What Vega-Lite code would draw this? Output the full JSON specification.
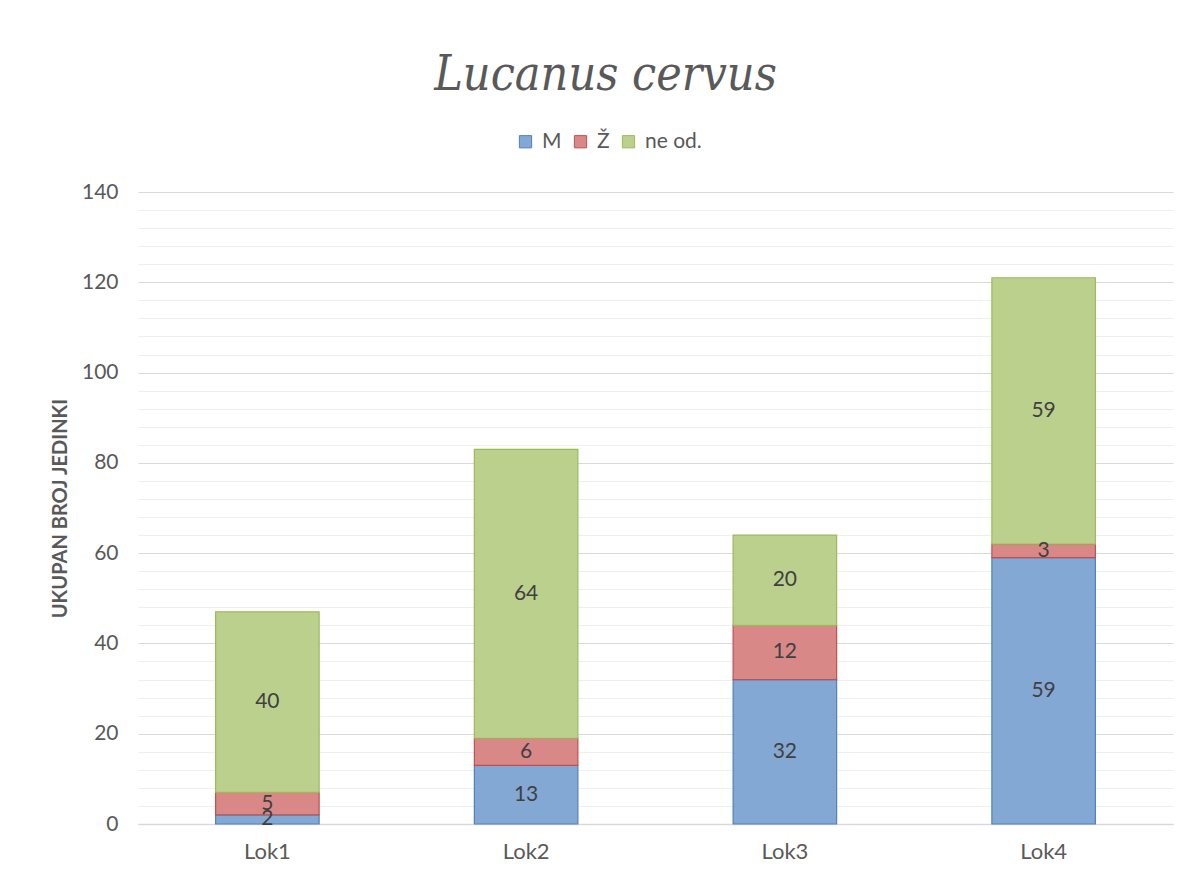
{
  "$schema": "https://vega.github.io/schema/vega-lite/v6.json",
  "width": 1035,
  "height": 632,
  "autosize": {"type": "none"},
  "padding": {"left": 138, "top": 192, "right": 16, "bottom": 55},
  "background": "white",
  "config": {"view": {"stroke": null}, "font": "Lato"},
  "title": {
    "text": "Lucanus cervus",
    "font": "DejaVu Serif Condensed, Liberation Serif",
    "fontStyle": "italic",
    "fontWeight": "normal",
    "fontSize": 48,
    "color": "#595959",
    "anchor": "middle",
    "baseline": "alphabetic",
    "offset": -7,
    "dx": -50
  },
  "data": {
    "values": [
      {"lok": "Lok1", "spol": "M", "ord": 1, "value": 2},
      {"lok": "Lok1", "spol": "Ž", "ord": 2, "value": 5},
      {"lok": "Lok1", "spol": "ne od.", "ord": 3, "value": 40},
      {"lok": "Lok2", "spol": "M", "ord": 1, "value": 13},
      {"lok": "Lok2", "spol": "Ž", "ord": 2, "value": 6},
      {"lok": "Lok2", "spol": "ne od.", "ord": 3, "value": 64},
      {"lok": "Lok3", "spol": "M", "ord": 1, "value": 32},
      {"lok": "Lok3", "spol": "Ž", "ord": 2, "value": 12},
      {"lok": "Lok3", "spol": "ne od.", "ord": 3, "value": 20},
      {"lok": "Lok4", "spol": "M", "ord": 1, "value": 59},
      {"lok": "Lok4", "spol": "Ž", "ord": 2, "value": 3},
      {"lok": "Lok4", "spol": "ne od.", "ord": 3, "value": 59}
    ]
  },
  "transform": [
    {"stack": "value", "groupby": ["lok"], "sort": [{"field": "ord", "order": "ascending"}], "as": ["y0", "y1"]},
    {"calculate": "(datum.y0 + datum.y1) / 2", "as": "mid"}
  ],
  "encoding": {
    "x": {
      "field": "lok",
      "type": "nominal",
      "scale": {"paddingInner": 0.6, "paddingOuter": 0.3},
      "axis": {
        "title": null,
        "labelAngle": 0,
        "labelFont": "Lato",
        "labelFontSize": 22,
        "labelColor": "#595959",
        "labelPadding": 17,
        "ticks": false,
        "domainColor": "#D9D9D9",
        "domainWidth": 1.5
      }
    }
  },
  "layer": [
    {
      "mark": {"type": "bar", "strokeWidth": 1.2},
      "encoding": {
        "y": {
          "field": "y0",
          "type": "quantitative",
          "scale": {"domain": [0, 140], "nice": false},
          "axis": {
            "title": "UKUPAN BROJ JEDINKI",
            "titleFont": "Lato",
            "titleFontSize": 20,
            "titleFontWeight": "bold",
            "titleColor": "#595959",
            "titleX": -68,
            "titleY": 316,
            "titleAnchor": "middle",
            "tickCount": 100,
            "values": [0,4,8,12,16,20,24,28,32,36,40,44,48,52,56,60,64,68,72,76,80,84,88,92,96,100,104,108,112,116,120,124,128,132,136,140],
            "labelExpr": "datum.value % 20 === 0 ? datum.label : ''",
            "labelOverlap": false,
            "labelFont": "Lato",
            "labelFontSize": 21,
            "labelColor": "#595959",
            "labelPadding": 20,
            "ticks": false,
            "domain": false,
            "grid": true,
            "gridColor": {"condition": {"test": "datum.value % 20 === 0", "value": "#D9D9D9"}, "value": "#EFEFEF"},
            "gridWidth": 1
          }
        },
        "y2": {"field": "y1"},
        "fill": {
          "field": "spol",
          "type": "nominal",
          "sort": ["M", "Ž", "ne od."],
          "scale": {"domain": ["M", "Ž", "ne od."], "range": ["#84A8D4", "#D98888", "#BCD08E"]},
          "legend": {
            "title": null,
            "orient": "none",
            "direction": "horizontal",
            "legendX": 377,
            "legendY": -61,
            "symbolType": "square",
            "symbolSize": 150,
            "symbolStrokeWidth": 1,
            "labelFont": "Lato",
            "labelFontSize": 21,
            "labelColor": "#595959",
            "labelOffset": 6,
            "columnPadding": 8
          }
        },
        "stroke": {
          "field": "spol",
          "type": "nominal",
          "scale": {"domain": ["M", "Ž", "ne od."], "range": ["#4F81BD", "#C0504D", "#9BBB59"]},
          "legend": null
        }
      }
    },
    {
      "mark": {"type": "text", "font": "Lato", "fontSize": 21, "color": "#404040", "baseline": "middle"},
      "encoding": {
        "y": {"field": "mid", "type": "quantitative"},
        "text": {"field": "value", "type": "quantitative"}
      }
    }
  ]
}
